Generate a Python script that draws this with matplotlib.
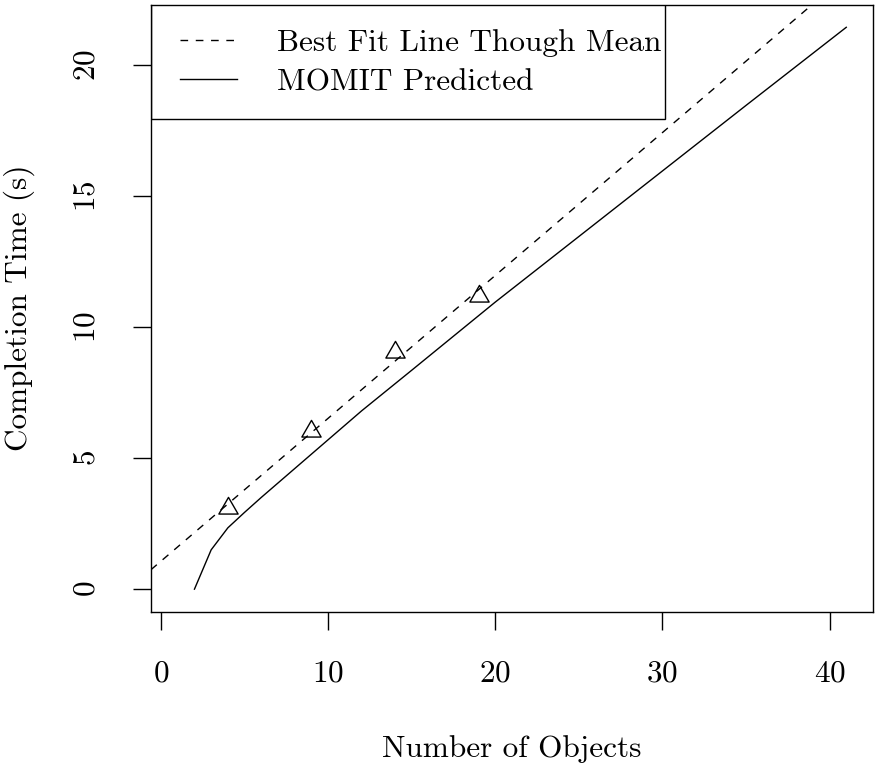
import numpy as np
import matplotlib
matplotlib.use("Agg")
import matplotlib.pyplot as plt
from matplotlib.patches import Rectangle
from matplotlib.path import Path

plt.rcParams["font.family"] = ["cmr10", "DejaVu Serif"]
plt.rcParams["axes.formatter.use_mathtext"] = True

# measured mean completion times
obj_counts = [4, 9, 14, 19]
mean_times = [3.09, 6.04, 9.04, 11.17]

# MOMIT model prediction
pred_objects = [2, 3, 4, 5, 6, 8, 10, 12, 15, 20, 25, 30, 35, 41]
pred_times = [0.0, 1.50, 2.34, 2.93, 3.50, 4.60, 5.70, 6.80, 8.35, 10.95,
              13.45, 15.95, 18.45, 21.43]

x_ticks = [0, 10, 20, 30, 40]
y_ticks = [0, 5, 10, 15, 20]

legend_labels = ["Best Fit Line Though Mean", "MOMIT Predicted"]

FS = 22.5
W, H = 875, 763

fig = plt.figure(figsize=(W / 100, H / 100), dpi=100)
ax = fig.add_axes([151 / W, 1 - 611.7 / H, 722 / W, 607.2 / H])

# R-style 4% padding around data range
ax.set_xlim(-0.6, 42.6)
ax.set_ylim(-0.86, 22.30)

# least squares line through the means
slope, intercept = np.polyfit(obj_counts, mean_times, 1)
dash = (0, (5.5, 5.5))
fit_line = ax.axline((0, intercept), slope=slope, color="black", lw=1.0,
                     linestyle=dash, label=legend_labels[0])
pred_line, = ax.plot(pred_objects, pred_times, color="black", lw=1.0,
                     label=legend_labels[1])

# R pch=2 triangle, centred on its centroid
tri_pts = [(0, 1.5551), (1.3468, -0.7776), (-1.3468, -0.7776), (0, 1.5551)]
tri = Path(tri_pts, closed=True)
ax.plot(obj_counts, mean_times, linestyle="none", marker=tri, ms=16,
        mfc="none", mec="black", mew=1.0)

ax.set_xticks(x_ticks)
ax.set_yticks(y_ticks)
ax.tick_params(axis="both", direction="out", length=13.3, width=1.0,
               labelsize=FS, color="black")
ax.tick_params(axis="x", pad=21)
ax.tick_params(axis="y", pad=23, labelrotation=90)
for lab in ax.get_yticklabels():
    lab.set_verticalalignment("center")

for sp in ax.spines.values():
    sp.set_linewidth(1.0)
    sp.set_color("black")

ax.set_xlabel("Number of Objects", fontsize=FS)
ax.xaxis.set_label_coords(0.5, -0.203)
ax.set_ylabel("Completion Time (s)", fontsize=FS)
ax.yaxis.set_label_coords(-0.16, 0.5)

# legend box drawn like R's legend(): flush with the top-left corner
ax.add_patch(Rectangle((0, 0.811), 0.712, 0.189, transform=ax.transAxes,
                       fill=False, edgecolor="black", lw=1.0, zorder=5))
ax.legend(handles=[fit_line, pred_line], loc="center left",
          bbox_to_anchor=((180 - 151) / 722, (611.7 - 62.5) / 607.2),
          frameon=False, fontsize=FS, borderpad=0, borderaxespad=0,
          handlelength=41 / FS, handletextpad=28.8 / FS, labelspacing=0.36)

fig.savefig("out.png", dpi=100)
